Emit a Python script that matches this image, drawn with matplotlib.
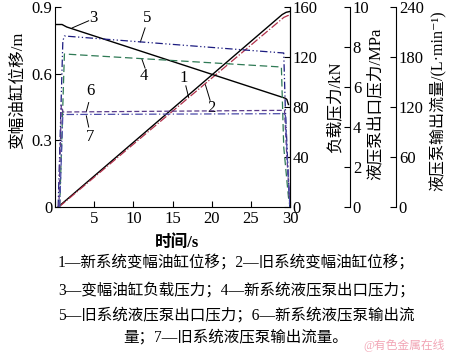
import matplotlib
matplotlib.use("Agg")
import matplotlib.pyplot as plt

plt.rcParams['font.family'] = ['Liberation Serif', 'Noto Sans CJK SC', 'DejaVu Serif']

# 1 new system cylinder displacement (m)
t1 = [0.4, 29.0, 29.5, 30.0]
disp_new = [0.0, 0.866, 0.876, 0.880]
# 2 old system cylinder displacement (m)
t2 = [0.5, 29.2, 29.7, 30.0]
disp_old = [0.0, 0.853, 0.861, 0.864]
# 3 cylinder load pressure (kN)
t3 = [0.2, 0.9, 1.5, 29.4, 29.6, 29.8]
load = [146, 146, 144, 87, 86, 82]
# 4 new pump outlet pressure (MPa)
t4 = [0.6, 1.2, 28.9, 29.2, 29.8, 30.0]
p_new = [0.0, 7.65, 7.0, 3.0, 0.5, 0.0]
# 5 old pump outlet pressure (MPa)
t5 = [0.4, 1.0, 1.2, 29.2, 29.4, 29.9, 30.0]
p_old = [0.0, 8.3, 8.55, 7.7, 5.0, 0.5, 0.0]
# 6 new pump flow (L/min)
t6 = [0.5, 0.8, 1.0, 29.3, 29.6, 30.0]
q_new = [0, 122, 114, 116, 60, 0]
# 7 old pump flow (L/min)
t7 = [0.6, 1.0, 29.4, 29.7, 30.0]
q_old = [0, 111, 112, 50, 0]

caption = ["1—新系统变幅油缸位移；2—旧系统变幅油缸位移；",
           "3—变幅油缸负载压力；4—新系统液压泵出口压力；",
           "5—旧系统液压泵出口压力；6—新系统液压泵输出流",
           "量；7—旧系统液压泵输出流量。"]

fig = plt.figure(figsize=(4.5, 3.54), dpi=100)
ax = fig.add_axes([55/450, 1-207/354, 235/450, 200/354])
ax2 = ax.twinx()
ax3 = ax.twinx()
ax4 = ax.twinx()

ax.plot(t1, disp_new, color="black", lw=1.0)
ax.plot(t2, disp_old, color="#b0304a", lw=0.9, ls="-.")
ax2.plot(t3, load, color="black", lw=1.0)
ax3.plot(t4, p_new, color="#2f7a55", lw=0.9, ls=(0, (6, 3)))
ax3.plot(t5, p_old, color="#1c1c80", lw=0.9, ls=(0, (6, 2, 1, 2, 1, 2)))
ax4.plot(t6, q_new, color="#5a3a8a", lw=0.9, ls=(0, (4, 2)))
ax4.plot(t7, q_old, color="#4a4aa8", lw=0.9, ls=(0, (6, 2, 1, 2)))

ax.set_xlim(0, 30)
ax.set_ylim(0, 0.9)
ax.set_xticks([0, 5, 10, 15, 20, 25, 30])
ax.set_xticklabels(["", "5", "10", "15", "20", "25", "30"])
ax.set_yticks([0, 0.3, 0.6, 0.9])
ax.set_yticklabels(["0", "0.3", "0.6", "0.9"])
ax2.set_ylim(0, 160)
ax2.set_yticks([0, 40, 80, 120, 160])
ax3.set_ylim(0, 10)
ax3.set_yticks([0, 2, 4, 6, 8, 10])
ax4.set_ylim(0, 240)
ax4.set_yticks([0, 60, 120, 180, 240])

ax.spines['top'].set_visible(False)
for a in (ax2, ax3, ax4):
    a.spines['top'].set_visible(False)
    a.spines['left'].set_visible(False)
    a.spines['bottom'].set_visible(False)
ax3.spines['right'].set_position(('axes', (350-55)/235))
ax4.spines['right'].set_position(('axes', (396-55)/235))

for a in (ax, ax2, ax3, ax4):
    a.tick_params(direction='in', labelsize=12, length=4, width=0.8, pad=2)
ax.tick_params(axis='x', pad=3)

ax.set_xlabel("时间/s", fontsize=12, fontweight='bold', va='center')
ax.xaxis.set_label_coords((177-55)/235, -(243-207)/200)
ax.set_ylabel("变幅油缸位移/m", fontsize=12, va='center', ha='center')
ax.yaxis.set_label_coords((18-55)/235, (207-90)/200)
ax2.set_ylabel("负载压力/kN", fontsize=12, rotation=90, va='center', ha='center')
ax2.yaxis.set_label_coords((335-55)/235, (207-107)/200)
ax3.set_ylabel("液压泵出口压力/MPa", fontsize=12, rotation=90, va='center', ha='center')
ax3.yaxis.set_label_coords((376-55)/235, (207-104)/200)
ax4.set_ylabel("液压泵输出流量/(L·min⁻¹)", fontsize=11.5, rotation=90,
               va='center', ha='center')
ax4.yaxis.set_label_coords((438-55)/235, (207-101)/200)

# curve numbers with leader lines (host data coords)
labels = [("3", 4.9, 0.85, (2.2, 0.806), (4.3, 0.838)),
          ("5", 11.7, 0.85, (10.9, 0.743), (11.5, 0.806)),
          ("4", 11.4, 0.59, (11.1, 0.665), (11.5, 0.625)),
          ("6", 4.5, 0.52, (4.0, 0.43), (4.3, 0.47)),
          ("7", 4.5, 0.315, (4.0, 0.41), (4.3, 0.36)),
          ("1", 16.4, 0.58, (17.05, 0.495), (16.7, 0.545)),
          ("2", 20.0, 0.445, (19.2, 0.55), (19.8, 0.48))]
for txt, x, y, p0, p1 in labels:
    ax.text(x, y, txt, fontsize=12, ha='center', va='center')
    ax.plot([p0[0], p1[0]], [p0[1], p1[1]], color="black", lw=0.7)

ys = [263, 291, 316, 338]
for line, y in zip(caption, ys):
    fig.text(236/450, 1-y/354, line, fontsize=11.2, ha='center', va='center')
fig.text(445/450, 1-345/354, "@有色金属在线", fontsize=8.5, color="#f2a6b6",
         ha='right', va='center')

fig.savefig("out.png", dpi=100)
